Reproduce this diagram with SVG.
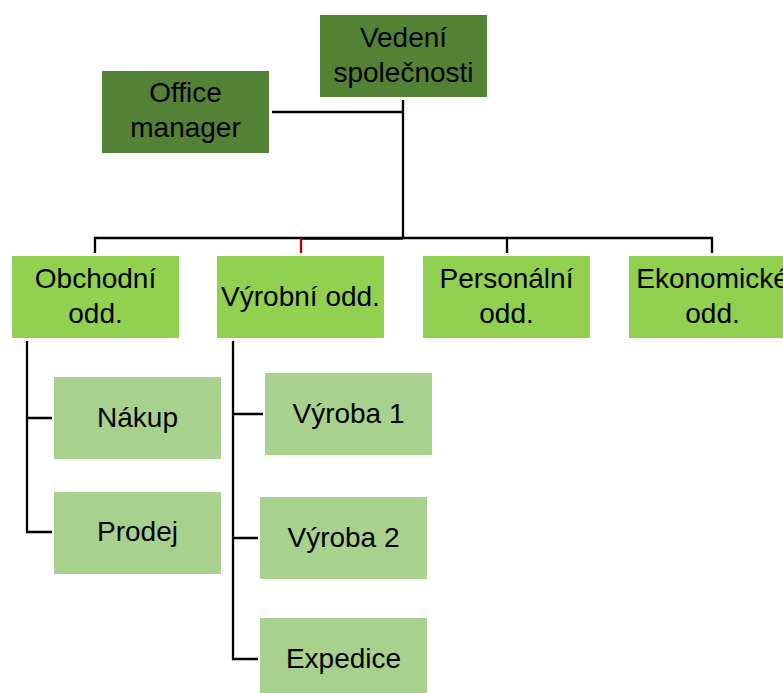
<svg xmlns="http://www.w3.org/2000/svg" width="783" height="693" viewBox="0 0 783 693">
<style>
.dk{fill:#548235}
.l1{fill:#92d050}
.l2{fill:#a9d18e}
text{font-family:"Liberation Sans",Arial,sans-serif;font-size:28px;fill:#000;text-anchor:middle}
.c{fill:none;stroke:#000;stroke-width:2.3}
</style>
<rect width="783" height="693" fill="#fff"/>
<g id="connectors">
<path class="c" d="M272 112H403"/>
<path class="c" d="M403 100V238" stroke="#1a0000"/>
<path class="c" d="M95 253V238H712V253"/>
<path class="c" d="M507 238V253"/>
<path d="M301 239.5H403" stroke="#c00000" stroke-width="1" fill="none"/>
<path d="M301 238V253" stroke="#c00000" stroke-width="2.3" fill="none"/>
<path class="c" d="M27 341V532H52M27 418H52"/>
<path class="c" d="M233 341V659H258M233 414H263M233 538H258"/>
</g>
<g id="vedeni"><rect class="dk" x="320" y="15" width="167" height="82"/><text x="403.5" y="47">Vedení</text><text x="403.5" y="82">společnosti</text></g>
<g id="office"><rect class="dk" x="102" y="71" width="167" height="82"/><text x="185.5" y="102">Office</text><text x="185.5" y="137">manager</text></g>
<g id="obchodni"><rect class="l1" x="12" y="256" width="167" height="82"/><text x="95.5" y="288">Obchodní</text><text x="95.5" y="323">odd.</text></g>
<g id="vyrobni"><rect class="l1" x="217" y="256" width="167" height="82"/><text x="300.5" y="306">Výrobní odd.</text></g>
<g id="personalni"><rect class="l1" x="423" y="256" width="167" height="82"/><text x="506.5" y="288">Personální</text><text x="506.5" y="323">odd.</text></g>
<g id="ekonomicke"><rect class="l1" x="629" y="256" width="167" height="82"/><text x="712.5" y="288">Ekonomické</text><text x="712.5" y="323">odd.</text></g>
<g id="nakup"><rect class="l2" x="54" y="377" width="167" height="82"/><text x="137.5" y="427">Nákup</text></g>
<g id="prodej"><rect class="l2" x="54" y="492" width="167" height="82"/><text x="137.5" y="541">Prodej</text></g>
<g id="vyroba1"><rect class="l2" x="265" y="373" width="167" height="82"/><text x="348.5" y="423">Výroba 1</text></g>
<g id="vyroba2"><rect class="l2" x="260" y="497" width="167" height="82"/><text x="343.5" y="547">Výroba 2</text></g>
<g id="expedice"><rect class="l2" x="260" y="618" width="167" height="82"/><text x="343.5" y="668">Expedice</text></g>
</svg>
